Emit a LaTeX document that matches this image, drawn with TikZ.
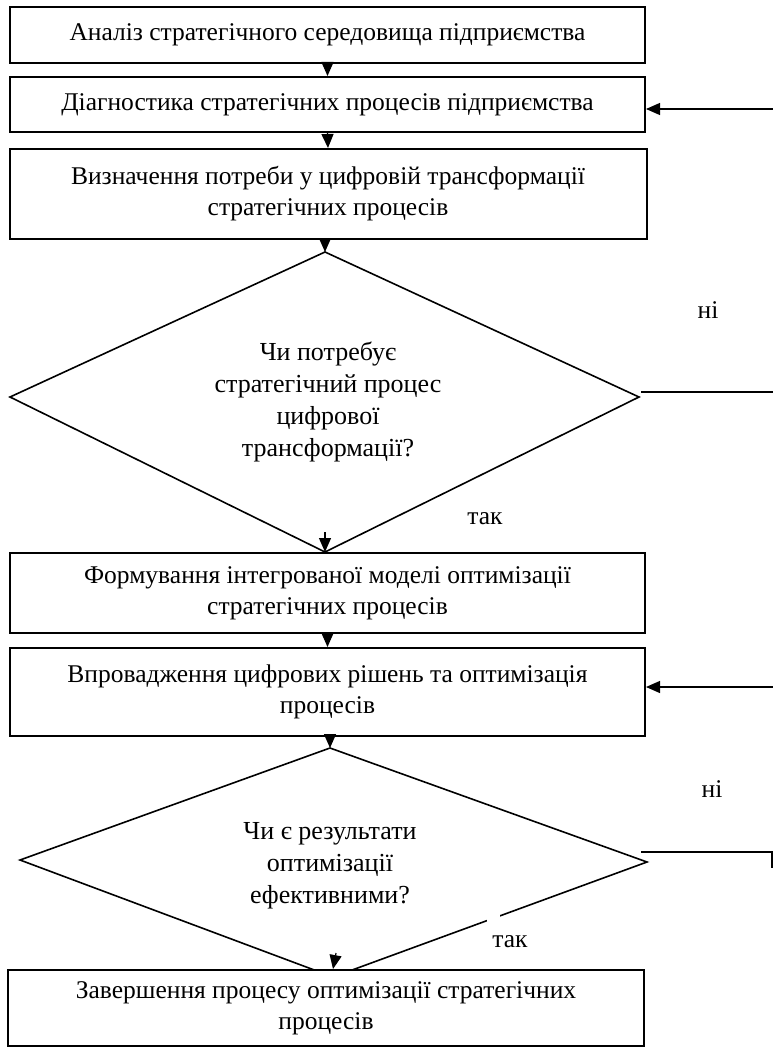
\documentclass[tikz,border=0pt]{standalone}
\usepackage{fontspec}
\setmainfont{Liberation Serif}
\usetikzlibrary{arrows.meta}
\newcommand{\boxfont}{\fontsize{25.5}{31}\selectfont}
\newcommand{\diafont}{\fontsize{26}{32}\selectfont}
\begin{document}
\begin{tikzpicture}[x=1pt,y=-1pt,
  box/.style={draw, line width=2pt, fill=white, minimum width=635pt, inner sep=0pt, align=center, font=\boxfont},
  dia/.style={draw, line width=1.6pt, line join=miter},
  dtext/.style={align=center, font=\diafont, inner sep=0pt},
  lbl/.style={font=\boxfont, inner sep=0pt},
  arr/.style={-{Triangle[length=14pt,width=12pt]}, line width=1.2pt},
  conn/.style={line width=1.2pt}]
\useasboundingbox (0,0) rectangle (773,1049);

% boxes
\node[box, minimum height=56pt] (b1) at (327.5,35) {Аналіз стратегічного середовища підприємства};
\node[box, minimum height=55pt] (b2) at (327.5,104.5) {Діагностика стратегічних процесів підприємства};
\node[box, minimum height=90pt, minimum width=637pt] (b3) at (328,194) {Визначення потреби у цифровій трансформації\\стратегічних процесів};

% diamond 1
\coordinate (d1n) at (325,252);
\coordinate (d1e) at (639,397);
\coordinate (d1s) at (325,552);
\coordinate (d1w) at (10,397);
\draw[dia] (d1n) -- (d1e) -- (d1s) -- (d1w) -- cycle;
\node[dtext] (d1) at (328,402) {Чи потребує\\стратегічний процес\\цифрової\\трансформації?};

\node[box, minimum height=80pt] (b4) at (327.5,593) {Формування інтегрованої моделі оптимізації\\стратегічних процесів};
\node[box, minimum height=88pt] (b5) at (327.5,692) {Впровадження цифрових рішень та оптимізація\\процесів};

% diamond 2
\coordinate (d2n) at (330,748);
\coordinate (d2e) at (647,862);
\coordinate (d2s) at (333,977);
\coordinate (d2w) at (20,860);
\draw[dia] (d2n) -- (d2e) -- (d2s) -- (d2w) -- cycle;
\fill[white] (487,907) rectangle (500,926);
\node[dtext] (d2) at (330,866) {Чи є результати\\оптимізації\\ефективними?};

\node[box, minimum height=76pt, minimum width=636pt] (b6) at (326,1008) {Завершення процесу оптимізації стратегічних\\процесів};

% vertical connectors
\draw[arr] (b1.south) -- (b2.north);
\draw[arr] (b2.south) -- (b3.north);
\draw[arr, shorten <=-8pt] (d1n |- b3.south) -- (d1n);
\coordinate (d1a) at (325,532);
\draw[arr] (d1a) -- (d1s);
\draw[arr, shorten <=-7pt] (b4.south) -- (b5.north);
\draw[arr, shorten <=-3pt] (d2n |- b5.south) -- (d2n);
\coordinate (d2a) at (336,953);
\draw[arr] (d2a) -- ([xshift=7pt]b6.north);

% feedback lines on the right
\coordinate (r1) at (773,109);
\draw[arr] (r1) -- (b2.east |- r1);
\coordinate (r2) at (773,392);
\draw[conn] ([shift={(2pt,5pt)}]d1e) -- (r2);
\coordinate (r3) at (773,687);
\draw[arr] (r3) -- (b5.east |- r3);
\coordinate (r4) at (773,852);
\draw[conn] ([shift={(-6pt,10pt)}]d2e) -- (r4);
\coordinate (r4t) at (772,852);
\coordinate (r4b) at (772,868);
\draw[conn] (r4t) -- (r4b);

% labels
\node[lbl] (no1) at (708,310) {ні};
\node[lbl] (yes1) at (485,519) {так};
\node[lbl] (no2) at (712,789) {ні};
\node[lbl] (yes2) at (510,942) {так};
\end{tikzpicture}
\end{document}
